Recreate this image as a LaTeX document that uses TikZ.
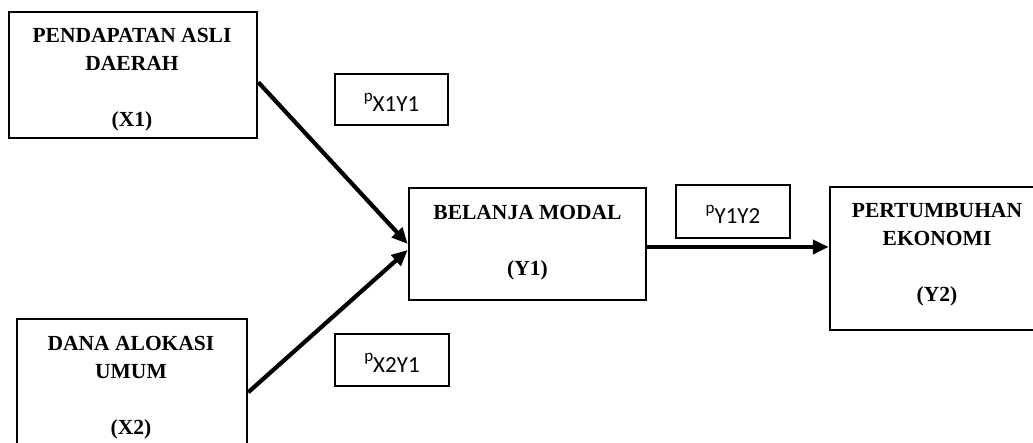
\documentclass[tikz,border=0pt]{standalone}
\usepackage{fontspec}
\setmainfont{Liberation Serif}
\newfontfamily\calfont{Carlito}
\usetikzlibrary{arrows.meta,calc}
\begin{document}
\begin{tikzpicture}[x=1pt,y=-1pt,
  bigbox/.style={draw=black,line width=2.5pt,rectangle,inner sep=0pt},
  pbox/.style={draw=black,line width=1.9pt,rectangle,inner sep=0pt,
    font=\calfont\fontsize{23}{26}\selectfont,text height=24pt,text depth=0pt},
  boxtext/.style={anchor=north,inner sep=0pt,align=center,
    font=\bfseries\fontsize{21.5}{28}\selectfont},
  arr/.style={line width=4.2pt,-{Triangle[length=16pt,width=14pt]}}]
\useasboundingbox (0,0) rectangle (1033,443);
\clip (0,0) rectangle (1033,443);
\fill[white] (0,0) rectangle (1033,443);
% main boxes
\node[bigbox,minimum width=248pt,minimum height=126pt] (x1) at (133,75) {};
\node[bigbox,minimum width=230pt,minimum height=133pt] (x2) at (132,385.5) {};
\node[bigbox,minimum width=237pt,minimum height=112pt] (y1) at (527.5,244) {};
\node[bigbox,minimum width=214pt,minimum height=143pt] (y2) at (937,258.5) {};
% texts
\node[boxtext] (x1t) at (132,28) {PENDAPATAN ASLI\\DAERAH\\[28pt](X1)};
\node[boxtext] (x2t) at (131,336) {DANA ALOKASI\\UMUM\\[28pt](X2)};
\node[boxtext] (y1t) at (527.5,205) {BELANJA MODAL\\[28pt](Y1)};
\node[boxtext] (y2t) at (937,203) {PERTUMBUHAN\\EKONOMI\\[28pt](Y2)};
% coefficient boxes
\newcommand{\pcoef}[1]{\raisebox{10pt}{\fontsize{17}{17}\selectfont p}#1}
\node[pbox,minimum width=113pt,minimum height=51pt] (px1) at (391.5,99.5) {\pcoef{X1Y1}};
\node[pbox,minimum width=114pt,minimum height=53pt] (py) at (733,211.5) {\pcoef{Y1Y2}};
\node[pbox,minimum width=114pt,minimum height=52pt] (px2) at (392,360) {\pcoef{X2Y1}};
% arrows
\draw[arr] ($(x1.north east)!0.556!(x1.south east)$) -- (y1.west);
\draw[arr] ($(x2.north east)!0.55!(x2.south east)$) -- ([yshift=-6pt]y1.west);
\coordinate (h) at ([yshift=-3pt]y1.east);
\draw[arr] (h) -- (h -| y2.west);
\end{tikzpicture}
\end{document}
